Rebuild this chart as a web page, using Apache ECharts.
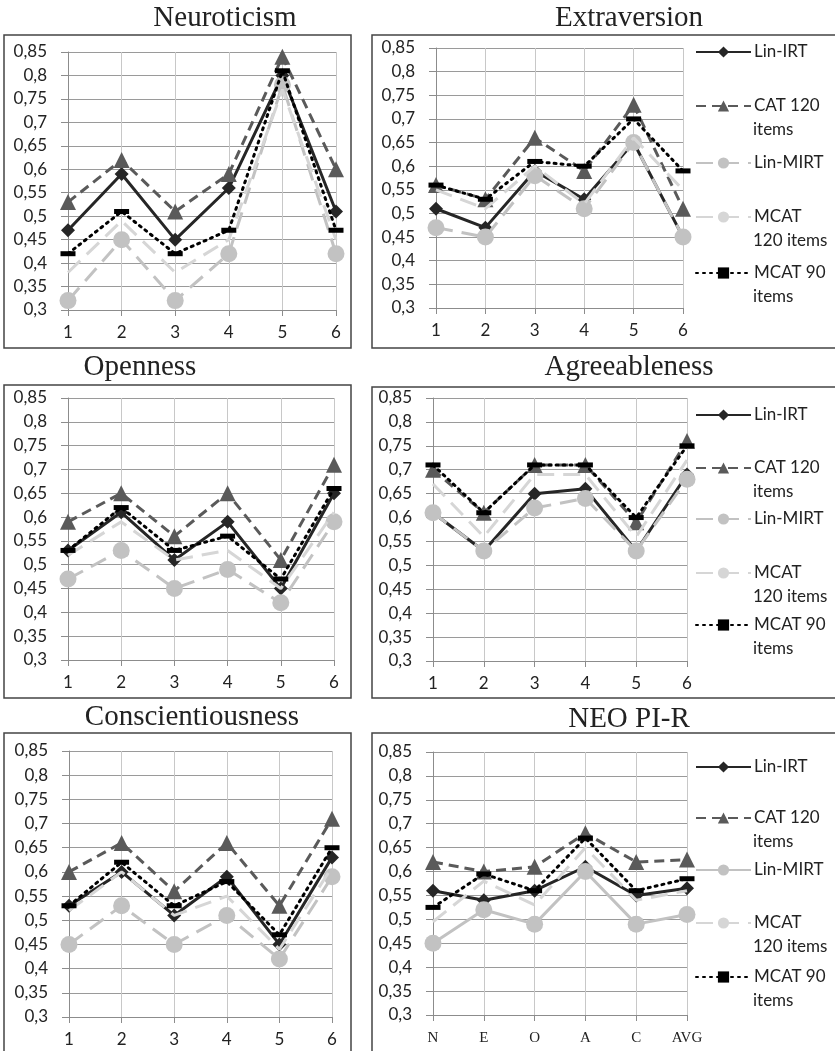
<!DOCTYPE html>
<html>

<head>
    <title>Facet precision - six panels</title>
    <meta charset="utf-8">
    <script src="https://cdn.jsdelivr.net/npm/echarts@6/dist/echarts.min.js"></script>
    <style>
        html, body { margin: 0; padding: 0; background: #fff; }
    </style>
</head>

<body>
    <div id="main" style="width: 835px;height:1051px;"></div>

    <script type="text/javascript">
        // series order in every panel below
        var seriesNames = ['Lin-IRT', 'CAT 120 items', 'Lin-MIRT', 'MCAT 120 items', 'MCAT 90 items'];

        var facets = ['1', '2', '3', '4', '5', '6'];
        var domains = ['N', 'E', 'O', 'A', 'C', 'AVG'];

        var yTicks = [0.3, 0.35, 0.4, 0.45, 0.5, 0.55, 0.6, 0.65, 0.7, 0.75, 0.8, 0.85];

        // rows: Lin-IRT, CAT 120, Lin-MIRT, MCAT 120, MCAT 90
        var neuroticism = [
            [0.47, 0.59, 0.45, 0.56, 0.80, 0.51],
            [0.53, 0.62, 0.51, 0.59, 0.84, 0.60],
            [0.32, 0.45, 0.32, 0.42, 0.78, 0.42],
            [0.38, 0.49, 0.38, 0.45, 0.77, 0.45],
            [0.42, 0.51, 0.42, 0.47, 0.81, 0.47]
        ];
        var extraversion = [
            [0.51, 0.47, 0.59, 0.53, 0.65, 0.45],
            [0.56, 0.53, 0.66, 0.59, 0.73, 0.51],
            [0.47, 0.45, 0.58, 0.51, 0.65, 0.45],
            [0.55, 0.51, 0.60, 0.52, 0.66, 0.55],
            [0.56, 0.53, 0.61, 0.60, 0.70, 0.59]
        ];
        var openness = [
            [0.53, 0.61, 0.51, 0.59, 0.45, 0.65],
            [0.59, 0.65, 0.56, 0.65, 0.51, 0.71],
            [0.47, 0.53, 0.45, 0.49, 0.42, 0.59],
            [0.52, 0.59, 0.51, 0.53, 0.45, 0.61],
            [0.53, 0.62, 0.53, 0.56, 0.47, 0.66]
        ];
        var agreeableness = [
            [0.61, 0.53, 0.65, 0.66, 0.53, 0.69],
            [0.70, 0.61, 0.71, 0.71, 0.59, 0.76],
            [0.61, 0.53, 0.62, 0.64, 0.53, 0.68],
            [0.67, 0.56, 0.69, 0.69, 0.56, 0.72],
            [0.71, 0.61, 0.71, 0.71, 0.60, 0.75]
        ];
        var conscientiousness = [
            [0.53, 0.60, 0.51, 0.59, 0.45, 0.63],
            [0.60, 0.66, 0.56, 0.66, 0.53, 0.71],
            [0.45, 0.53, 0.45, 0.51, 0.42, 0.59],
            [0.52, 0.60, 0.51, 0.55, 0.44, 0.61],
            [0.53, 0.62, 0.53, 0.58, 0.47, 0.65]
        ];
        var neoPiR = [
            [0.56, 0.54, 0.56, 0.61, 0.55, 0.565],
            [0.62, 0.60, 0.61, 0.68, 0.62, 0.625],
            [0.45, 0.52, 0.49, 0.60, 0.49, 0.51],
            [0.495, 0.58, 0.53, 0.65, 0.54, 0.56],
            [0.525, 0.595, 0.56, 0.67, 0.56, 0.585]
        ];

        // panel layout
        var panels = [
            { title: 'Neuroticism', data: neuroticism, cats: facets, tx: 225, ty: 18,
              grid: [68, 52, 268, 258], box: [4, 35, 347, 313] },
            { title: 'Extraversion', data: extraversion, cats: facets, tx: 629, ty: 18,
              grid: [436, 48, 247, 260], box: [372, 35, 470, 313], legend: [52, 106, 163, 217, 273] },
            { title: 'Openness', data: openness, cats: facets, tx: 140, ty: 367,
              grid: [68, 398, 266, 262], box: [4, 385, 347, 313] },
            { title: 'Agreeableness', data: agreeableness, cats: facets, tx: 629, ty: 367,
              grid: [433, 398, 254, 263], box: [372, 387, 470, 311], legend: [415, 468, 519, 573, 625] },
            { title: 'Conscientiousness', data: conscientiousness, cats: facets, tx: 192, ty: 717,
              grid: [69, 751, 263, 266], box: [4, 733, 347, 330] },
            { title: 'NEO PI-R', data: neoPiR, cats: domains, tx: 629, ty: 719, serifX: true, solidMirt: true,
              grid: [433, 752, 254, 263], box: [372, 733, 470, 330], legend: [767, 818, 870, 923, 977] }
        ];

        var styles = [
            { color: '#262626', dash: 'solid', symbol: 'diamond', size: 14 },
            { color: '#5a5a5a', dash: [10, 6], symbol: 'triangle', size: 16 },
            { color: '#c2c2c2', dash: [17, 9], symbol: 'circle', size: 17 },
            { color: '#d6d6d6', dash: [17, 9], symbol: 'none', size: 0 },
            { color: '#000000', dash: [2, 5], symbol: 'rect', size: [15, 5] }
        ];

        var firstLine = ['Lin-IRT', 'CAT 120', 'Lin-MIRT', 'MCAT', 'MCAT 90'];
        var secondLine = ['', 'items', '', '120 items', 'items'];

        var labelFont = 'Lato, "Open Sans", sans-serif';

        var myChart = echarts.init(document.getElementById('main'));

        var grids = [], xAxes = [], yAxes = [], series = [], legends = [], graphics = [];

        panels.forEach(function (p, i) {
            grids.push({ left: p.grid[0], top: p.grid[1], width: p.grid[2], height: p.grid[3] });

            xAxes.push({
                type: 'category',
                gridIndex: i,
                data: p.cats,
                boundaryGap: false,
                axisLine: { lineStyle: { color: '#8c8c8c', width: 1 } },
                axisTick: { show: true, length: 6, lineStyle: { color: '#8c8c8c' } },
                splitLine: { show: true, lineStyle: { color: '#c8c8c8', width: 1 } },
                axisLabel: p.serifX
                    ? { margin: 16, fontFamily: '"Liberation Serif", serif', fontSize: 15, color: '#222' }
                    : { margin: 14, fontFamily: labelFont, fontSize: 17, color: '#222' }
            });

            yAxes.push({
                type: 'value',
                gridIndex: i,
                min: yTicks[0],
                max: yTicks[yTicks.length - 1],
                interval: 0.05,
                axisLine: { show: true, lineStyle: { color: '#8c8c8c', width: 1 } },
                axisTick: { show: true, length: 7, lineStyle: { color: '#8c8c8c' } },
                splitLine: { show: true, lineStyle: { color: '#9a9a9a', width: 1 } },
                axisLabel: {
                    margin: 21,
                    fontFamily: labelFont,
                    fontSize: 17,
                    color: '#222',
                    formatter: function (v) {
                        return String(Math.round(v * 100) / 100).replace('.', ',');
                    }
                }
            });

            p.data.forEach(function (vals, k) {
                var s = styles[k];
                var dash = (k === 2 && p.solidMirt) ? 'solid' : s.dash;
                series.push({
                    name: seriesNames[k] + '#' + i,
                    type: 'line',
                    xAxisIndex: i,
                    yAxisIndex: i,
                    data: vals,
                    symbol: s.symbol,
                    symbolSize: s.size,
                    showSymbol: s.symbol !== 'none',
                    z: 2 + k,
                    itemStyle: { color: s.color, opacity: 1 },
                    lineStyle: { color: s.color, width: 3, type: dash, cap: k === 4 ? 'round' : 'butt' },
                    emphasis: { disabled: true },
                    animation: false
                });
            });

            graphics.push({
                type: 'rect',
                shape: { x: p.box[0], y: p.box[1], width: p.box[2], height: p.box[3] },
                style: { fill: null, stroke: '#444', lineWidth: 1.5 },
                silent: true,
                z: 100
            });
            graphics.push({
                type: 'text',
                x: p.tx,
                y: p.ty,
                style: {
                    text: p.title,
                    font: '29px "Liberation Serif", serif',
                    fill: '#222',
                    align: 'center',
                    verticalAlign: 'middle'
                },
                silent: true
            });

            if (p.legend) {
                p.legend.forEach(function (yc, k) {
                    legends.push({
                        data: [seriesNames[k] + '#' + i],
                        left: 695,
                        top: yc - 10,
                        padding: 0,
                        itemWidth: 55,
                        itemHeight: 14,
                        itemGap: 0,
                        selectedMode: false,
                        formatter: function () { return firstLine[k]; },
                        textStyle: { fontFamily: labelFont, fontSize: 17, color: '#222', lineHeight: 20, padding: [0, 0, 0, -2] }
                    });
                    if (secondLine[k]) {
                        graphics.push({
                            type: 'text',
                            x: 753,
                            y: yc + 24,
                            style: {
                                text: secondLine[k],
                                font: '17px ' + labelFont,
                                fill: '#222',
                                align: 'left',
                                verticalAlign: 'middle'
                            },
                            silent: true
                        });
                    }
                });
            }
        });

        var option = {
            animation: false,
            backgroundColor: '#fff',
            grid: grids,
            xAxis: xAxes,
            yAxis: yAxes,
            legend: legends,
            series: series,
            graphic: graphics
        };

        myChart.setOption(option);
    </script>
</body>

</html>
